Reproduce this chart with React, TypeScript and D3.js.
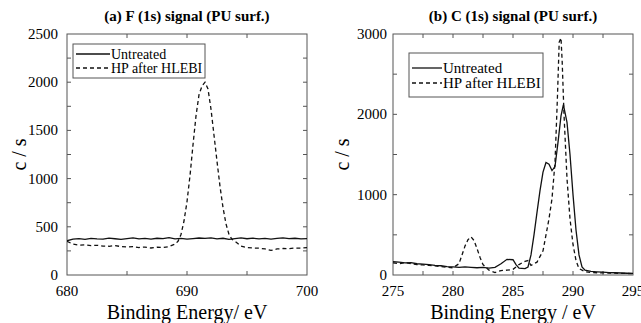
import React from "react";
import * as d3 from "d3";

// (a) F (1s) — untreated, sampled every 0.5 eV from 680 to 700
const fUntreatedCounts = [
  355, 372, 378, 370, 380, 375, 372, 383, 376, 370, 378, 385, 374, 379, 372, 381,
  377, 388, 375, 380, 372, 378, 384, 379, 386, 375, 381, 370, 378, 385, 376, 382,
  374, 379, 372, 380, 386, 377, 381, 375, 378,
];
const fUntreatedEnergy = fUntreatedCounts.map((_, i) => 680 + i * 0.5);

// (a) F (1s) — HP after HLEBI
const fHpEnergy = [
  680, 680.5, 681, 681.5, 682, 682.5, 683, 683.5, 684, 684.5, 685, 685.5, 686, 686.5,
  687, 687.5, 688, 688.5, 689, 689.25, 689.5, 689.75, 690, 690.25, 690.5, 690.75, 691,
  691.25, 691.5, 691.75, 692, 692.25, 692.5, 692.75, 693, 693.25, 693.5, 693.75, 694,
  694.5, 695, 695.5, 696, 696.5, 697, 697.5, 698, 698.5, 699, 699.5, 700,
];
const fHpCounts = [
  350, 320, 310, 312, 305, 308, 300, 298, 305, 295, 290, 295, 285, 290, 280, 288, 285,
  295, 320, 350, 420, 560, 760, 1030, 1350, 1650, 1870, 1960, 2000, 1930, 1720, 1450,
  1180, 920, 700, 530, 420, 370, 350, 300, 285, 280, 278, 270, 255, 270, 275, 272, 280,
  278, 285,
];

// (b) C (1s) — untreated
const cUntreatedEnergy = [
  275, 275.5, 276, 276.5, 277, 277.5, 278, 278.5, 279, 279.5, 280, 280.5, 281, 281.5,
  282, 282.5, 283, 283.5, 284, 284.5, 285, 285.25, 285.5, 286, 286.25, 286.5, 286.75,
  287, 287.25, 287.5, 287.75, 288, 288.25, 288.5, 288.75, 289, 289.2, 289.5, 289.75,
  290, 290.25, 290.5, 290.75, 291, 291.5, 292, 292.5, 293, 293.5, 294, 294.5, 295,
];
const cUntreatedCounts = [
  165, 160, 150, 155, 140, 135, 130, 120, 115, 105, 100, 95, 100, 95, 90, 95, 85, 95,
  140, 195, 190, 130, 85, 80, 100, 250, 500, 780, 1050, 1280, 1400, 1380, 1300, 1350,
  1650, 1980, 2120, 1900, 1500, 1000, 560, 250, 100, 60, 45, 40, 35, 30, 28, 25, 22, 20,
];

// (b) C (1s) — HP after HLEBI
const cHpEnergy = [
  275, 275.5, 276, 276.5, 277, 277.5, 278, 278.5, 279, 279.5, 280, 280.5, 280.75, 281,
  281.25, 281.5, 281.75, 282, 282.25, 282.5, 283, 283.5, 284, 284.5, 285, 285.5, 286,
  286.25, 286.5, 287, 287.5, 287.75, 288, 288.25, 288.5, 288.7, 288.85, 289, 289.1,
  289.25, 289.5, 289.75, 290, 290.25, 290.5, 291, 291.5, 292, 293, 294, 295,
];
const cHpCounts = [
  150, 140, 155, 140, 130, 125, 120, 115, 105, 95, 90, 140, 250, 360, 440, 475, 430, 330,
  220, 130, 60, 30, 55, 60, 70, 130, 170, 180, 120, 160, 300, 500, 700, 950, 1400, 2200,
  2900, 2950, 2650, 2000, 1200, 700, 380, 180, 80, 40, 30, 28, 25, 20, 18,
];

const legendLabels = ["Untreated", "HP after HLEBI"];

const serifStyle = { fontFamily: "'Liberation Serif', serif" };

type Series = { energy: number[]; counts: number[]; dashed: boolean };

type PanelProps = {
  id: string;
  title: string;
  xLabel: string;
  frame: { x0: number; x1: number; y0: number; y1: number };
  xDomain: [number, number];
  yDomain: [number, number];
  xMajor: number[];
  xMinor: number[];
  yMajor: number[];
  yMinor: number[];
  tickLabelEnd: number;
  yLabelX: number;
  legend: { x: number; y: number; w: number; h: number; row1: number; row2: number; segW: number; font: number };
  series: Series[];
};

function Panel(p: PanelProps) {
  const x = d3.scaleLinear().domain(p.xDomain).range([p.frame.x0, p.frame.x1]);
  const y = d3.scaleLinear().domain(p.yDomain).range([p.frame.y1, p.frame.y0]);
  const line = d3
    .line<[number, number]>()
    .x((d) => x(d[0]))
    .y((d) => y(d[1]));
  const { x0, x1, y0, y1 } = p.frame;
  const cx = (x0 + x1) / 2;
  const tk = 4;
  const frameColor = "#555";

  return (
    <g>
      <defs>
        <clipPath id={`clip-${p.id}`}>
          <rect x={x0} y={y0} width={x1 - x0} height={y1 - y0} />
        </clipPath>
      </defs>
      <text x={cx} y={21} textAnchor="middle" fontWeight="bold" fontSize={15} style={serifStyle}>
        {p.title}
      </text>
      <rect x={x0} y={y0} width={x1 - x0} height={y1 - y0} fill="none" stroke={frameColor} strokeWidth={1} />
      {p.xMinor.map((v) => (
        <g key={`xm${v}`} stroke={frameColor}>
          <line x1={x(v)} x2={x(v)} y1={y1} y2={y1 - tk} />
          <line x1={x(v)} x2={x(v)} y1={y0} y2={y0 + tk} />
        </g>
      ))}
      {p.yMinor.map((v) => (
        <g key={`ym${v}`} stroke={frameColor}>
          <line x1={x0} x2={x0 + tk} y1={y(v)} y2={y(v)} />
          <line x1={x1} x2={x1 - tk} y1={y(v)} y2={y(v)} />
        </g>
      ))}
      {p.xMajor.map((v) => (
        <text key={`xt${v}`} x={x(v)} y={296} textAnchor="middle" fontSize={15} style={serifStyle}>
          {v}
        </text>
      ))}
      {p.yMajor.map((v) => (
        <text key={`yt${v}`} x={p.tickLabelEnd} y={y(v) + 5} textAnchor="end" fontSize={15} style={serifStyle}>
          {v}
        </text>
      ))}
      <text x={cx} y={319} textAnchor="middle" fontSize={20} style={serifStyle}>
        {p.xLabel}
      </text>
      <text
        transform={`translate(${p.yLabelX},${(y0 + y1) / 2}) rotate(-90)`}
        textAnchor="middle"
        fontSize={20}
        style={serifStyle}
      >
        c / s
      </text>
      <g clipPath={`url(#clip-${p.id})`}>
        {p.series.map((s, i) => (
          <path
            key={i}
            d={line(s.energy.map((e, j) => [e, s.counts[j]] as [number, number])) || ""}
            fill="none"
            stroke="#111"
            strokeWidth={1.3}
            strokeDasharray={s.dashed ? "4,3" : undefined}
          />
        ))}
      </g>
      <rect
        x={p.legend.x}
        y={p.legend.y}
        width={p.legend.w}
        height={p.legend.h}
        fill="white"
        stroke={frameColor}
        strokeWidth={1}
      />
      {legendLabels.map((lab, i) => {
        const ly = i === 0 ? p.legend.row1 : p.legend.row2;
        return (
          <g key={lab}>
            <line
              x1={p.legend.x + 3}
              x2={p.legend.x + 3 + p.legend.segW}
              y1={ly}
              y2={ly}
              stroke="#111"
              strokeWidth={1.3}
              strokeDasharray={i === 1 ? "4,3" : undefined}
            />
            <text x={p.legend.x + 4 + p.legend.segW} y={ly + 5} fontSize={p.legend.font} style={serifStyle}>
              {lab}
            </text>
          </g>
        );
      })}
    </g>
  );
}

export default function App() {
  return (
    <svg
      width={641}
      height={323}
      style={{ position: "absolute", left: 0, top: 0, background: "white" }}
    >
      <Panel
        id="a"
        title="(a) F (1s) signal (PU surf.)"
        xLabel="Binding Energy/ eV"
        frame={{ x0: 67, x1: 307, y0: 34, y1: 275 }}
        xDomain={[680, 700]}
        yDomain={[0, 2500]}
        xMajor={[680, 690, 700]}
        xMinor={[685, 690, 695]}
        yMajor={[0, 500, 1000, 1500, 2000, 2500]}
        yMinor={d3.range(250, 2500, 250)}
        tickLabelEnd={58}
        yLabelX={26}
        legend={{ x: 73, y: 44, w: 132, h: 34, row1: 54, row2: 68, segW: 34, font: 14 }}
        series={[
          { energy: fUntreatedEnergy, counts: fUntreatedCounts, dashed: false },
          { energy: fHpEnergy, counts: fHpCounts, dashed: true },
        ]}
      />
      <Panel
        id="b"
        title="(b) C (1s) signal (PU surf.)"
        xLabel="Binding Energy / eV"
        frame={{ x0: 393, x1: 633, y0: 34, y1: 275 }}
        xDomain={[275, 295]}
        yDomain={[0, 3000]}
        xMajor={[275, 280, 285, 290, 295]}
        xMinor={d3.range(277.5, 295, 2.5)}
        yMajor={[0, 1000, 2000, 3000]}
        yMinor={d3.range(500, 3000, 500)}
        tickLabelEnd={387}
        yLabelX={349}
        legend={{ x: 409, y: 53, w: 134, h: 44, row1: 68, row2: 83, segW: 30, font: 15 }}
        series={[
          { energy: cUntreatedEnergy, counts: cUntreatedCounts, dashed: false },
          { energy: cHpEnergy, counts: cHpCounts, dashed: true },
        ]}
      />
    </svg>
  );
}
